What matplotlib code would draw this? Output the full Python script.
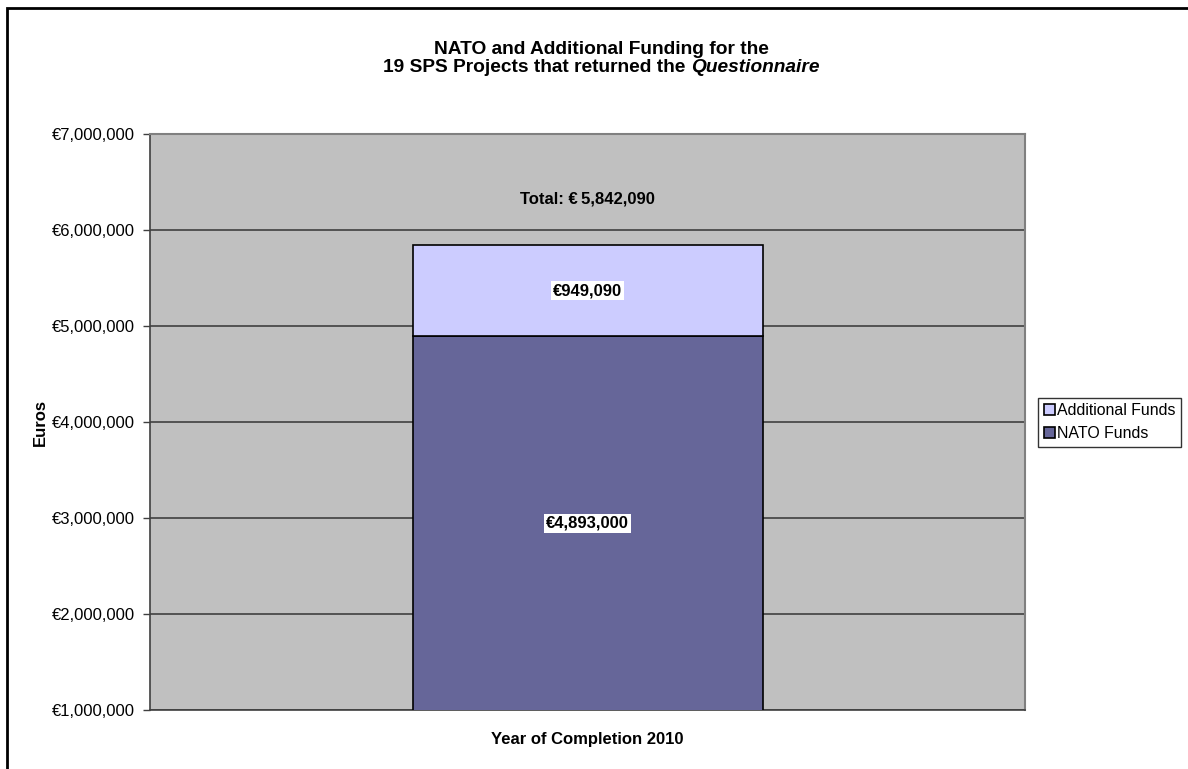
import matplotlib.pyplot as plt
from matplotlib.patches import Rectangle
from matplotlib.ticker import FuncFormatter

plt.rcParams['font.family'] = ['Liberation Sans', 'DejaVu Sans']

category = ["Year of Completion 2010"]
nato_funds = [4893000]
additional_funds = [949090]
total = nato_funds[0] + additional_funds[0]

fig = plt.figure(figsize=(11.88, 7.69), dpi=100)
ax = fig.add_axes([150 / 1188, 1 - 710 / 769, 875 / 1188, 576 / 769])
ax.set_facecolor("#C0C0C0")

x = [0]
b1 = ax.bar(x, nato_funds, width=0.4, color="#666699", edgecolor="black",
            linewidth=1.2, label="NATO Funds", zorder=3)
b2 = ax.bar(x, additional_funds, bottom=nato_funds, width=0.4, color="#CCCCFF",
            edgecolor="black", linewidth=1.2, label="Additional Funds", zorder=3)

ax.set_xlim(-0.5, 0.5)
ax.set_ylim(1000000, 7000000)
ax.set_yticks(range(1000000, 7000001, 1000000))
ax.yaxis.set_major_formatter(FuncFormatter(lambda v, p: "€{:,.0f}".format(v)))
ax.set_xticks(x)
ax.set_xticklabels(category, fontsize=12, fontweight="bold")
ax.tick_params(axis="x", length=0, pad=15.5)
ax.tick_params(axis="y", labelsize=12, length=5, width=1, color="#404040", pad=6)
ax.grid(axis="y", color="#404040", linewidth=1.2, zorder=1)
for s in ["left", "bottom"]:
    ax.spines[s].set_color("#404040")
    ax.spines[s].set_linewidth(1.2)
for s in ["right", "top"]:
    ax.spines[s].set_color("#808080")
    ax.spines[s].set_linewidth(1.5)

ax.set_ylabel("Euros", fontsize=12, fontweight="bold")
ax.yaxis.set_label_coords(-0.117, 0.5)

lab_box = dict(facecolor="white", edgecolor="none", pad=1.5)
ax.text(0, 1000000 + (nato_funds[0] - 1000000) / 2, "€{:,}".format(nato_funds[0]),
        ha="center", va="center", fontsize=12, fontweight="bold", bbox=lab_box, zorder=5)
ax.text(0, nato_funds[0] + additional_funds[0] / 2, "€{:,}".format(additional_funds[0]),
        ha="center", va="center", fontsize=12, fontweight="bold", bbox=lab_box, zorder=5)
ax.text(0, total + 480000, "Total: €\u2009{:,}".format(total),
        ha="center", va="center", fontsize=12, fontweight="bold", zorder=5)

# title, second line has an italic word
cx = 601 / 1188
tsize = 13.8
fig.text(cx, 1 - 49 / 769, "NATO and Additional Funding for the",
         ha="center", va="center", fontsize=tsize, fontweight="bold")
fig.canvas.draw()
r = fig.canvas.get_renderer()
p1 = "19 SPS Projects that returned the "
p2 = "Questionnaire"
t1 = fig.text(0, 0, p1, fontsize=tsize, fontweight="bold")
t2 = fig.text(0, 0, p2, fontsize=tsize, fontweight="bold", style="italic")
w1 = t1.get_window_extent(r).width
w2 = t2.get_window_extent(r).width
x0 = cx * 1188 - (w1 + w2) / 2
y2 = 1 - 68 / 769
t1.set_position((x0 / 1188, y2))
t1.set_va("center")
t2.set_position(((x0 + w1) / 1188, y2))
t2.set_va("center")

leg = ax.legend(handles=[b2, b1], loc="center left", bbox_to_anchor=(1038 / 1188, 1 - 422 / 769),
                bbox_transform=fig.transFigure, fontsize=11.4, frameon=True, fancybox=False,
                handlelength=0.7, handleheight=0.7, handletextpad=0.15, borderpad=0.35,
                borderaxespad=0, labelspacing=0.5)
leg.get_frame().set_edgecolor("black")
leg.get_frame().set_linewidth(1)

fig.patches.append(Rectangle((7 / 1188, -0.1), 1.2, 1 - 8 / 769 + 0.1, transform=fig.transFigure,
                             fill=False, edgecolor="black", linewidth=2))

fig.savefig("out.png", dpi=100)
